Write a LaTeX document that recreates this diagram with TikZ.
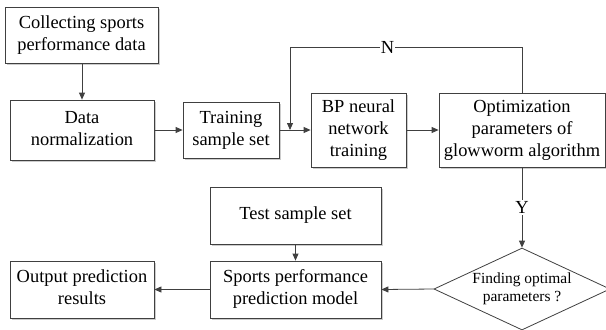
\documentclass[tikz,border=0pt]{standalone}
\usepackage{fontspec}
\setmainfont{Liberation Serif}
\usetikzlibrary{shapes.geometric,arrows.meta,shadows}
\newcommand{\mlines}[1]{\begin{tabular}{@{}c@{}}#1\end{tabular}}
\begin{document}
\begin{tikzpicture}[x=1bp,y=-1bp,
  line/.style={draw=black!75, line width=0.8bp},
  arr/.style={line, -{Triangle[length=7bp,width=6bp]}},
  box/.style={line, fill=white, inner sep=1bp,
    font=\rmfamily\fontsize{18.5}{22}\selectfont,
    drop shadow={shadow xshift=2bp, shadow yshift=-2bp, fill=black!20, opacity=1}},
  dia/.style={line, fill=white, diamond, inner sep=0bp, aspect=2.15,
    font=\rmfamily\fontsize{15.5}{18}\selectfont, minimum width=168bp, minimum height=78bp},
  lab/.style={fill=white, inner sep=1bp, font=\rmfamily\fontsize{18.5}{22}\selectfont}]
\useasboundingbox (0,0) rectangle (606,329);
\node[box, minimum width=153bp, minimum height=56bp] (c1) at (81.5,35) {\mlines{Collecting sports\\performance data}};
\node[box, minimum width=144bp, minimum height=60bp] (c2) at (82,130) {\mlines{Data\\normalization}};
\node[box, minimum width=96bp, minimum height=56bp] (c3) at (231,130) {\mlines{Training\\sample set}};
\node[box, minimum width=95bp, minimum height=74bp] (c4) at (358.5,130) {\mlines{BP neural\\network\\training}};
\node[box, minimum width=166bp, minimum height=74bp] (c5) at (522,130) {\mlines{Optimization\\parameters of\\glowworm algorithm}};
\node[dia] (d) at (522,289) {\mlines{Finding optimal\\parameters ?}};
\node[box, minimum width=171bp, minimum height=57bp] (t) at (295.5,215.5) {Test sample set};
\node[box, minimum width=171bp, minimum height=57bp] (s) at (295.5,289.5) {\mlines{Sports performance\\prediction model}};
\node[box, minimum width=144bp, minimum height=57bp] (o) at (82,289.5) {\mlines{Output prediction\\results}};
\coordinate (ntop) at (290,47);
\coordinate (fb) at (290,130);
\draw[arr] (c1.south -| c2.north) -- (c2.north);
\draw[arr] (c2.east) -- (c3.west);
\draw[arr] (c3.east) -- (c4.west);
\draw[arr] (c4.east) -- (c5.west);
\draw[arr] (c5.north) |- (ntop) node[lab, pos=0.79] {N} -- (fb);
\draw[arr] (c5.south) -- node[lab] {Y} (d.north);
\draw[arr] (d.west) -- (s.east);
\draw[arr] (s.west) -- (o.east);
\draw[arr] (t.south) -- (s.north);
\end{tikzpicture}
\end{document}
